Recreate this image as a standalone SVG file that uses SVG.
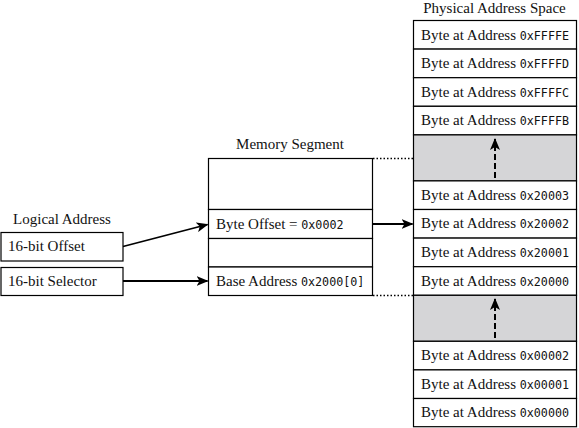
<svg xmlns="http://www.w3.org/2000/svg" width="579" height="428" viewBox="0 0 579 428">
<style>
.box{fill:#fff;stroke:#000;stroke-width:1.2}
.gray{fill:#d5d5d7;stroke:#000;stroke-width:1.2}
.t{font-family:"Liberation Serif","Times New Roman",serif;font-size:15px;fill:#111}
.m{font-family:"DejaVu Sans Mono",monospace;font-size:11.7px}
.ttl{font-family:"Liberation Serif","Times New Roman",serif;font-size:15px;fill:#111;text-anchor:middle}
.ln{stroke:#000;stroke-width:1.8;fill:none}
.dot{stroke:#000;stroke-width:1.3;stroke-dasharray:1.5,2;fill:none}
.dash{stroke:#000;stroke-width:2;stroke-dasharray:6,3;fill:none}
</style>
<defs>
<marker id="ah" markerWidth="12" markerHeight="10" refX="11" refY="5" orient="auto" markerUnits="userSpaceOnUse">
<path d="M0,0 L12,5 L0,10 L3,5 Z" fill="#000"/>
</marker>
</defs>

<g id="logical">
<text class="ttl" x="62" y="224">Logical Address</text>
<rect class="box" x="1" y="232.5" width="122" height="28.5"/>
<text class="t" x="8" y="251">16-bit Offset</text>
<rect class="box" x="1" y="267.5" width="122" height="28"/>
<text class="t" x="8" y="286">16-bit Selector</text>
</g>

<g id="segment">
<text class="ttl" x="290" y="149">Memory Segment</text>
<rect class="box" x="208.5" y="158.5" width="164" height="51"/>
<rect class="box" x="208.5" y="209.5" width="164" height="29"/>
<text class="t" x="216" y="229">Byte Offset = <tspan class="m">0x0002</tspan></text>
<rect class="box" x="208.5" y="238.5" width="164" height="28.5"/>
<rect class="box" x="208.5" y="267" width="164" height="28.5"/>
<text class="t" x="216" y="286">Base Address <tspan class="m">0x2000[0]</tspan></text>
</g>

<g id="physical">
<text class="ttl" x="494.5" y="13">Physical Address Space</text>
<rect class="box" x="413.5" y="20.5" width="163" height="28.6"/>
<text class="t" x="421" y="39.5">Byte at Address <tspan class="m">0xFFFFE</tspan></text>
<rect class="box" x="413.5" y="49.1" width="163" height="28.6"/>
<text class="t" x="421" y="68">Byte at Address <tspan class="m">0xFFFFD</tspan></text>
<rect class="box" x="413.5" y="77.7" width="163" height="28.6"/>
<text class="t" x="421" y="96.7">Byte at Address <tspan class="m">0xFFFFC</tspan></text>
<rect class="box" x="413.5" y="106.3" width="163" height="28.6"/>
<text class="t" x="421" y="125.3">Byte at Address <tspan class="m">0xFFFFB</tspan></text>
<rect class="gray" x="413.5" y="134.9" width="163" height="46"/>
<rect class="box" x="413.5" y="180.9" width="163" height="28.6"/>
<text class="t" x="421" y="199.8">Byte at Address <tspan class="m">0x20003</tspan></text>
<rect class="box" x="413.5" y="209.5" width="163" height="28.6"/>
<text class="t" x="421" y="228.4">Byte at Address <tspan class="m">0x20002</tspan></text>
<rect class="box" x="413.5" y="238.1" width="163" height="28.6"/>
<text class="t" x="421" y="257">Byte at Address <tspan class="m">0x20001</tspan></text>
<rect class="box" x="413.5" y="266.7" width="163" height="28.6"/>
<text class="t" x="421" y="285.6">Byte at Address <tspan class="m">0x20000</tspan></text>
<rect class="gray" x="413.5" y="295.3" width="163" height="46"/>
<rect class="box" x="413.5" y="341.3" width="163" height="28.6"/>
<text class="t" x="421" y="360.2">Byte at Address <tspan class="m">0x00002</tspan></text>
<rect class="box" x="413.5" y="369.9" width="163" height="28.6"/>
<text class="t" x="421" y="388.8">Byte at Address <tspan class="m">0x00001</tspan></text>
<rect class="box" x="413.5" y="398.5" width="163" height="28.2"/>
<text class="t" x="421" y="417.2">Byte at Address <tspan class="m">0x00000</tspan></text>
</g>

<g id="connectors">
<line class="ln" x1="123" y1="246.5" x2="207.5" y2="224.5" marker-end="url(#ah)"/>
<line class="ln" x1="123" y1="281" x2="207.5" y2="281" marker-end="url(#ah)"/>
<line class="ln" x1="372.5" y1="224" x2="412.5" y2="224" marker-end="url(#ah)"/>
<line class="dot" x1="373" y1="158.5" x2="413" y2="158.5"/>
<line class="dot" x1="373" y1="295.5" x2="413" y2="295.5"/>
<line class="dash" x1="495" y1="178" x2="495" y2="139" marker-end="url(#ah)"/>
<line class="dash" x1="495" y1="338" x2="495" y2="299" marker-end="url(#ah)"/>
</g>
</svg>
